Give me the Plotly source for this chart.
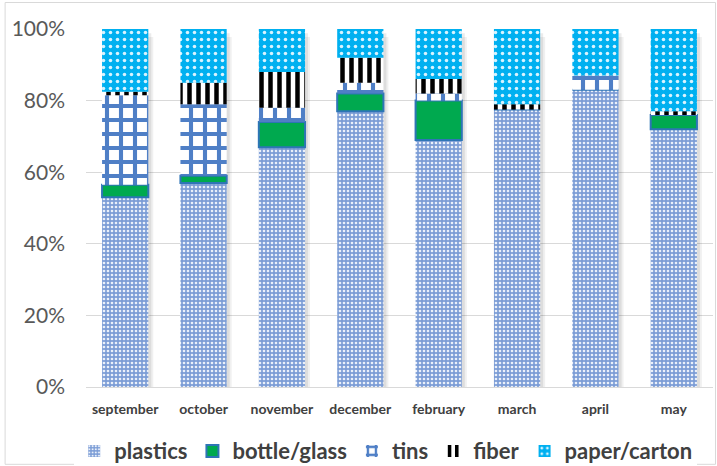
import numpy as np
import plotly.graph_objects as go

# Monthly composition of collected waste (% of total per month)
months = ["september", "october", "november", "december",
          "february", "march", "april", "may"]
plastics = [53, 57, 67, 77, 69, 77.5, 83, 72]
bottle_glass = [3.5, 2, 7, 5, 11, 0, 0, 4]
tins = [25, 20, 4, 3, 2, 0, 4, 0]
fiber = [1, 6, 10, 7, 4, 1.5, 0, 1]
paper_carton = [17.5, 15, 12, 8, 14, 21, 13, 23]

y_ticks = [0, 20, 40, 60, 80, 100]
y_tick_labels = ["0%", "20%", "40%", "60%", "80%", "100%"]

FONT = "Lato"
BAR_WIDTH = 0.59

series = [
    dict(name="plastics", values=plastics, color="#7C9DD6",
         pattern=dict(shape=".", fgcolor="#EAF0FA", bgcolor="#7C9DD6",
                      size=4, solidity=0.35, fillmode="replace"),
         line=dict(width=0)),
    dict(name="bottle/glass", values=bottle_glass, color="#00A94F",
         pattern=None, line=dict(width=2, color="#2E75B6")),
    dict(name="tins", values=tins, color="#4F7FC6",
         pattern=dict(shape="+", fgcolor="#4F7FC6", bgcolor="#FFFFFF",
                      size=14, solidity=0.5, fillmode="replace"),
         line=dict(width=0)),
    dict(name="fiber", values=fiber, color="#000000",
         pattern=dict(shape="|", fgcolor="#000000", bgcolor="#FFFFFF",
                      size=9, solidity=0.5, fillmode="replace"),
         line=dict(width=0)),
    dict(name="paper/carton", values=paper_carton, color="#00B0F0",
         pattern=dict(shape=".", fgcolor="#D8F3FF", bgcolor="#00B0F0",
                      size=7, solidity=0.2, fillmode="replace"),
         line=dict(width=0)),
]

fig = go.Figure()

# soft drop shadow behind each full column
totals = np.sum([s["values"] for s in series], axis=0)
for dx, dy, alpha in [(5, 2.2, 0.06), (3, 1.2, 0.08)]:
    fig.add_trace(go.Bar(
        x=months, y=totals, base=-dy, width=BAR_WIDTH,
        offset=-BAR_WIDTH / 2 + dx / 78.4,
        marker=dict(color=f"rgba(0,0,0,{alpha})", line=dict(width=0)),
        showlegend=False, hoverinfo="skip"))

# stacked segments, each starting where the previous one ends
base = np.zeros(len(months))
for s in series:
    marker = dict(line=s["line"], color=s["color"])
    if s["pattern"] is not None:
        marker["pattern"] = s["pattern"]
    fig.add_trace(go.Bar(x=months, y=s["values"], base=base.copy(),
                         width=BAR_WIDTH, name=s["name"],
                         marker=marker, hoverinfo="x+y+name"))
    base += np.array(s["values"], dtype=float)

fig.update_layout(
    width=717, height=466,
    margin=dict(l=86, r=4, t=29, b=79, autoexpand=False),
    barmode="overlay",
    plot_bgcolor="#FFFFFF",
    paper_bgcolor="#FFFFFF",
    font=dict(family=FONT, color="#404040"),
    legend=dict(orientation="h", x=0.478, xanchor="center",
                y=-0.179, yanchor="middle",
                font=dict(size=22, color="#404040", weight="bold"),
                traceorder="normal", itemclick=False),
    xaxis=dict(showgrid=False, showline=True, linecolor="#D9D9D9",
               linewidth=1, ticks="", automargin=False,
               tickfont=dict(size=14, color="#404040", weight="bold"),
               ticklabelstandoff=9),
    yaxis=dict(range=[0, 100], tickvals=y_ticks, ticktext=y_tick_labels,
               showgrid=True, gridcolor="#D9D9D9", gridwidth=1,
               zeroline=False, showline=False, automargin=False,
               tickfont=dict(size=21, color="#595959"),
               ticklabelstandoff=20),
    shapes=[dict(type="rect", xref="paper", yref="paper",
                 x0=-0.129, x1=1.004, y0=-0.216, y1=1.074,
                 line=dict(color="#D9D9D9", width=1),
                 fillcolor="rgba(0,0,0,0)", layer="below")],
)

fig.write_html("out.html")
